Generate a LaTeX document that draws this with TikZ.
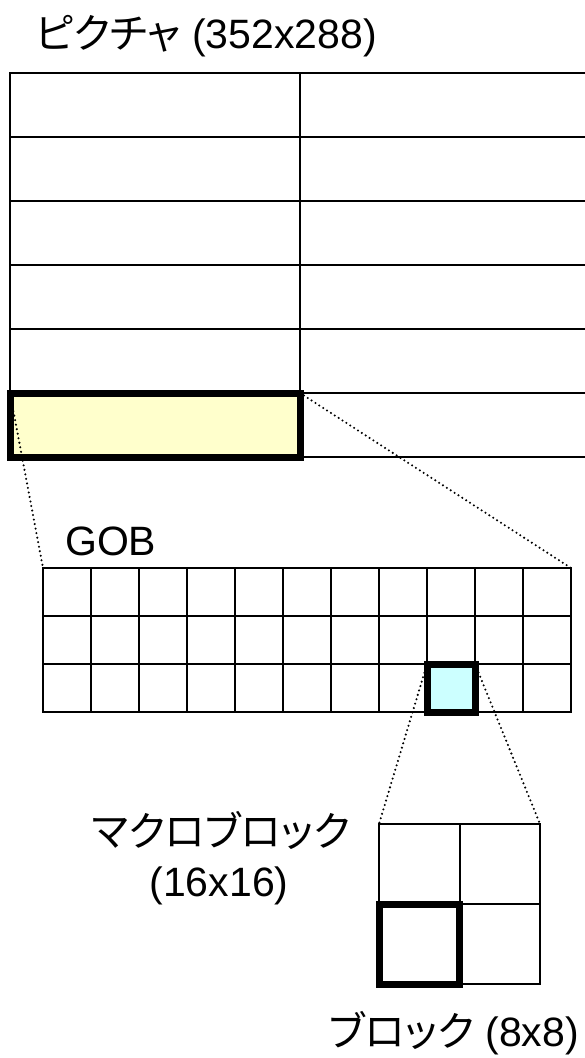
\documentclass[tikz,border=0pt]{standalone}
\usepackage{fontspec}
\setmainfont{Liberation Sans}
\newfontfamily\jp[RawFeature=+palt]{Noto Sans CJK JP}
\definecolor{yellowfill}{HTML}{FFFFCC}
\definecolor{cyanfill}{HTML}{CCFFFF}
\begin{document}
\begin{tikzpicture}[x=1pt,y=-1pt,
  thinline/.style={line width=2pt, line cap=rect},
  boxnode/.style={draw, thinline, inner sep=0pt, outer sep=0pt, anchor=north west},
  hlbox/.style={draw, line width=7pt, inner sep=0pt, outer sep=0pt, anchor=north west},
  dotline/.style={line width=2.3pt, line cap=round, dash pattern=on 0pt off 4.6pt},
  label/.style={inner sep=0pt, font=\fontsize{41}{49}\selectfont}]
\useasboundingbox (0,0) rectangle (585,1058);
\clip (0,0) rectangle (585,1058);
% title
\node[label, anchor=base west] (title) at (35,48) {{\jp ピクチャ} (352x288)};
% picture grid
\foreach \j in {0,...,6} \draw[thinline] (10,73+64*\j) -- (590,73+64*\j);
\draw[thinline] (10,73) -- (10,457);
\draw[thinline] (300,73) -- (300,457);
% highlighted GOB in picture
\node[hlbox, fill=yellowfill, minimum width=290pt, minimum height=64pt] (yb) at (10,393) {};
% GOB
\node[label, anchor=base west] (goblabel) at (65,555) {GOB};
\node[boxnode, minimum width=528pt, minimum height=144pt] (gob) at (43,568) {};
\foreach \i in {1,...,10} \draw[thinline] (43+48*\i,568) -- (43+48*\i,712);
\foreach \j in {1,2} \draw[thinline] (43,568+48*\j) -- (571,568+48*\j);
\node[hlbox, fill=cyanfill, minimum width=48pt, minimum height=48pt] (cb) at (427,664) {};
% macroblock
\node[boxnode, minimum width=161pt, minimum height=160pt] (mb) at (379,824) {};
\draw[thinline] (459.5,824) -- (459.5,984);
\draw[thinline] (379,904) -- (540,904);
\node[hlbox, minimum width=80.5pt, minimum height=80pt] (blk) at (379,904) {};
% labels
\node[label, anchor=base] (mblabel) at (221,846) {\jp マクロブロック};
\node[label, anchor=base] (mbsize) at (219,896) {(16x16)};
\node[label, anchor=base east] (blklabel) at (579,1046) {{\jp ブロック} (8x8)};
% zoom connectors
\draw[dotline] (yb.north west) -- (gob.north west);
\draw[dotline] (yb.north east) -- (gob.north east);
\draw[dotline] (cb.north west) -- (mb.north west);
\draw[dotline] (cb.north east) -- (mb.north east);
\end{tikzpicture}
\end{document}
